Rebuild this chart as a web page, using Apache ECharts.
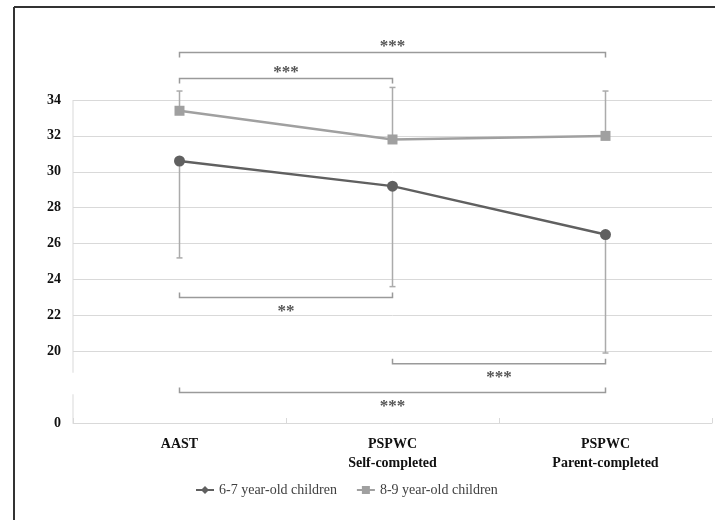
<!DOCTYPE html>
<html>
<head>
<meta charset="utf-8">
<script src="https://cdn.jsdelivr.net/npm/echarts@6/dist/echarts.min.js"></script>
<style>html,body{margin:0;padding:0;background:#fff}#c{width:715px;height:520px}</style>
</head>
<body>
<div id="c"></div>
<script>
// ---- data ----
const categories = ['AAST', 'PSPWC\nSelf-completed', 'PSPWC\nParent-completed'];
const seriesNames = ['6-7 year-old children', '8-9 year-old children'];
const mean67 = [30.6, 29.2, 26.5];
const mean89 = [33.4, 31.8, 32.0];
const sd67 = [5.4, 5.6, 6.6];   // drawn downward
const sd89 = [1.1, 2.9, 2.5];   // drawn upward
const yTickValues = [16, 18, 20, 22, 24, 26, 28, 30, 32, 34];
const yTickLabels = ['0', '', '20', '22', '24', '26', '28', '30', '32', '34'];
const yAxisSegments = [[16, 17.6], [18.8, 34]];   // broken value axis line
const bracketFrom = [0, 0, 0, 1, 0];
const bracketTo = [2, 1, 1, 2, 2];
const bracketLevel = [36.65, 35.2, 23.0, 19.3, 17.7];
const bracketSide = [1, 1, -1, -1, -1];   // 1: label above, ticks down; -1: label below, ticks up
const bracketLabel = ['***', '***', '**', '***', '***'];

const FONT = '"Liberation Serif", "Times New Roman", serif';
const chart = echarts.init(document.getElementById('c'), null, {renderer: 'canvas'});

const errData67 = mean67.map((m, i) => [i, m, m - sd67[i]]);
const errData89 = mean89.map((m, i) => [i, m, m + sd89[i]]);
const bracketData = bracketFrom.map((f, i) => [f, bracketTo[i], bracketLevel[i], bracketSide[i]]);

function renderErr(params, api) {
  const a = api.coord([api.value(0), api.value(1)]);
  const b = api.coord([api.value(0), api.value(2)]);
  const st = {stroke: '#ababab', lineWidth: 1.5};
  return {type: 'group', children: [
    {type: 'line', shape: {x1: a[0], y1: a[1], x2: b[0], y2: b[1]}, style: st},
    {type: 'line', shape: {x1: b[0] - 3, y1: b[1], x2: b[0] + 3, y2: b[1]}, style: st}
  ]};
}

function renderBracket(params, api) {
  const p1 = api.coord([api.value(0), api.value(2)]);
  const p2 = api.coord([api.value(1), api.value(2)]);
  const side = api.value(3);
  const tick = 5 * side;
  const st = {stroke: '#9a9a9a', lineWidth: 1.5, fill: 'none'};
  const y = p1[1];
  const ty = side > 0 ? y - 6 : y + 14;
  return {type: 'group', children: [
    {type: 'polyline', shape: {points: [[p1[0], y + tick], [p1[0], y], [p2[0], y], [p2[0], y + tick]]}, style: st},
    {type: 'text', style: {
      text: bracketLabel[params.dataIndex], x: (p1[0] + p2[0]) / 2, y: ty,
      align: 'center', verticalAlign: 'middle', fontSize: 17, fontWeight: 'bold', fontFamily: FONT, fill: '#555555'
    }}
  ]};
}

function renderAxisSeg(params, api) {
  const x = params.coordSys.x;
  const a = api.coord([0, api.value(0)]);
  const b = api.coord([0, api.value(1)]);
  return {type: 'line', shape: {x1: x, y1: a[1], x2: x, y2: b[1]}, style: {stroke: '#d9d9d9', lineWidth: 1}};
}

const gridColors = yTickValues.map((v, i) => yTickLabels[i] === '' ? 'rgba(0,0,0,0)' : '#d9d9d9');

const option = {
  backgroundColor: '#fff',
  animation: false,
  grid: {left: 73, right: 3, top: 100, bottom: 97},
  legend: {
    data: seriesNames,
    left: 190, top: 478,
    itemWidth: 18, itemHeight: 10, itemGap: 19,
    textStyle: {fontFamily: FONT, fontSize: 14, color: '#404040'}
  },
  xAxis: {
    type: 'category',
    data: categories,
    boundaryGap: true,
    axisLine: {lineStyle: {color: '#d9d9d9', width: 1}},
    axisTick: {show: true, inside: true, length: 5, lineStyle: {color: '#d9d9d9'}},
    axisLabel: {fontFamily: FONT, fontSize: 14, fontWeight: 'bold', color: '#111', margin: 12, lineHeight: 19},
    splitLine: {show: false}
  },
  yAxis: {
    type: 'value',
    min: 16, max: 34, interval: 2,
    axisLine: {show: false},
    axisTick: {show: false},
    axisLabel: {
      fontFamily: FONT, fontSize: 14, fontWeight: 'bold', color: '#111', margin: 12,
      formatter: v => { const i = yTickValues.indexOf(v); return i >= 0 ? yTickLabels[i] : ''; }
    },
    splitLine: {show: true, lineStyle: {color: gridColors, width: 1}}
  },
  graphic: [
    {type: 'line', shape: {x1: 14, y1: 7, x2: 715, y2: 7}, style: {stroke: '#333', lineWidth: 2}, silent: true},
    {type: 'line', shape: {x1: 14, y1: 7, x2: 14, y2: 520}, style: {stroke: '#333', lineWidth: 2}, silent: true}
  ],
  series: [
    {type: 'custom', name: 'axisline', renderItem: renderAxisSeg, data: yAxisSegments, clip: false, silent: true, z: 1,
      encode: {y: [0, 1]}},
    {type: 'custom', name: 'err67', renderItem: renderErr, data: errData67, clip: false, silent: true, z: 1,
      encode: {x: 0, y: [1, 2]}},
    {type: 'custom', name: 'err89', renderItem: renderErr, data: errData89, clip: false, silent: true, z: 1,
      encode: {x: 0, y: [1, 2]}},
    {
      type: 'line', name: seriesNames[0],
      data: mean67.map(v => ({value: v, symbol: 'circle'})),
      symbol: 'diamond', symbolSize: 11,
      lineStyle: {color: '#606060', width: 2.5},
      itemStyle: {color: '#606060'},
      z: 3
    },
    {
      type: 'line', name: seriesNames[1],
      data: mean89,
      symbol: 'rect', symbolSize: 10,
      lineStyle: {color: '#a0a0a0', width: 2.5},
      itemStyle: {color: '#a0a0a0'},
      z: 3
    },
    {type: 'custom', name: 'brackets', renderItem: renderBracket, data: bracketData, clip: false, silent: true, z: 4,
      encode: {x: [0, 1], y: 2}}
  ]
};
chart.setOption(option);
</script>
</body>
</html>
